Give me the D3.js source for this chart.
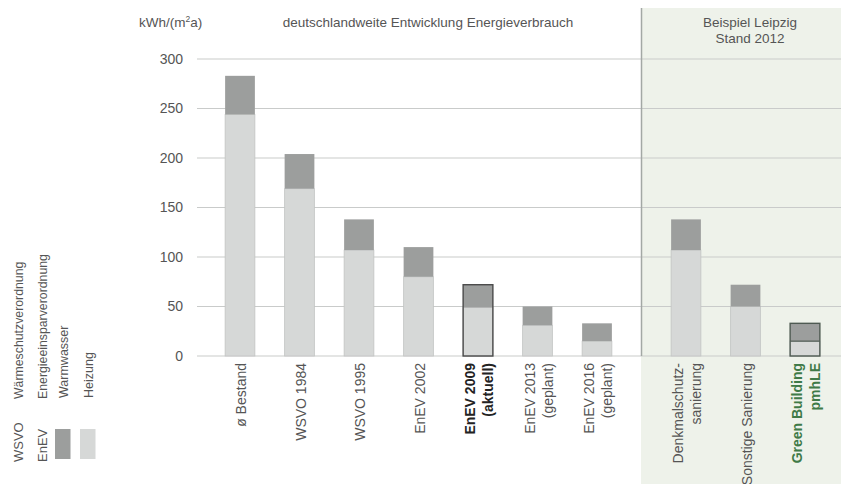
<!DOCTYPE html>
<html>
<head>
<meta charset="utf-8">
<script src="https://cdn.jsdelivr.net/npm/d3@7"></script>
<style>
  html, body { margin: 0; padding: 0; background: #fff; }
  svg { display: block; font-family: "Liberation Sans", Arial, sans-serif; }
</style>
</head>
<body>
<svg id="chart" width="841" height="484"></svg>
<script>
// ---- data ----
const germanyCategories = ["ø Bestand", "WSVO 1984", "WSVO 1995", "EnEV 2002", "EnEV 2009|(aktuell)", "EnEV 2013|(geplant)", "EnEV 2016|(geplant)"];
const germanyHeizung    = [244, 169, 107, 80, 49, 31, 15];
const germanyTotal      = [283, 204, 138, 110, 72, 50, 33];

const leipzigCategories = ["Denkmalschutz-|sanierung", "Sonstige Sanierung", "Green Building|pmhLE"];
const leipzigHeizung    = [107, 50, 15];
const leipzigTotal      = [138, 72, 33];

const yTicks = [0, 50, 100, 150, 200, 250, 300];
const germanyTitle = "deutschlandweite Entwicklung Energieverbrauch";
const leipzigTitle = ["Beispiel Leipzig", "Stand 2012"];

const legendAbbr = ["WSVO", "EnEV"];
const legendAbbrText = ["Wärmeschutzverordnung", "Energieeinsparverordnung"];
const seriesNames = ["Warmwasser", "Heizung"];

const boldCategory = "EnEV 2009|(aktuell)";
const greenCategory = "Green Building|pmhLE";

// ---- drawing ----
const svg = d3.select("#chart");
const W = 841, H = 484;
const textCol = "#555";
const colWarm = "#9c9e9d", colHeiz = "#d6d8d7", colHeizStroke = "#c2c4c3";
const greenBg = "#eef2ea";

const y = d3.scaleLinear().domain([0, 300]).range([356, 59]);
const xG = d3.scaleBand().domain(germanyCategories).range([210.25, 626.75]).paddingInner(0.5).paddingOuter(0.25);
const xL = d3.scaleBand().domain(leipzigCategories).range([656.25, 834.75]).paddingInner(0.5).paddingOuter(0.25);

// green panel
svg.append("rect").attr("x", 641).attr("y", 8).attr("width", W - 641).attr("height", H - 8).attr("fill", greenBg);

// y axis labels + grid
const yAxis = d3.axisLeft(y).tickValues(yTicks).tickSize(0).tickPadding(0);
const gAxis = svg.append("g").attr("transform", "translate(183,0)").call(yAxis);
gAxis.select(".domain").remove();
gAxis.selectAll("text").attr("font-size", 14).attr("fill", textCol).attr("font-family", "Liberation Sans, Arial, sans-serif");
svg.append("g").selectAll("line").data(yTicks).join("line")
  .attr("x1", 197).attr("x2", W).attr("y1", d => y(d)).attr("y2", d => y(d))
  .attr("stroke", "#c9cbca").attr("stroke-width", 1.2);

// separator
svg.append("line").attr("x1", 641.5).attr("x2", 641.5).attr("y1", 8).attr("y2", y(0))
  .attr("stroke", "#a3a8a5").attr("stroke-width", 1.5);

function drawGroup(x, cats, heiz, total) {
  const rows = cats.map((c, i) => ({ c, h: heiz[i], t: total[i] }));
  const g = svg.append("g");
  g.selectAll("rect.h").data(rows).join("rect")
    .attr("x", d => x(d.c)).attr("width", x.bandwidth())
    .attr("y", d => y(d.h)).attr("height", d => y(0) - y(d.h))
    .attr("fill", colHeiz).attr("stroke", colHeizStroke).attr("stroke-width", 0.8);
  g.selectAll("rect.w").data(rows).join("rect")
    .attr("x", d => x(d.c)).attr("width", x.bandwidth())
    .attr("y", d => y(d.t)).attr("height", d => y(d.h) - y(d.t))
    .attr("fill", colWarm);
  g.selectAll("rect.o").data(rows.filter(d => d.c === boldCategory || d.c === greenCategory)).join("rect")
    .attr("x", d => x(d.c)).attr("width", x.bandwidth())
    .attr("y", d => y(d.t)).attr("height", d => y(0) - y(d.t))
    .attr("fill", "none")
    .attr("stroke", d => d.c === greenCategory ? "#4e5a52" : "#4a4a4a").attr("stroke-width", 1.4);
  g.selectAll("line.o").data(rows.filter(d => d.c === greenCategory)).join("line")
    .attr("x1", d => x(d.c)).attr("x2", d => x(d.c) + x.bandwidth())
    .attr("y1", d => y(d.h)).attr("y2", d => y(d.h))
    .attr("stroke", "#4e5a52").attr("stroke-width", 1.2);
  const lab = g.selectAll("text.lab").data(rows).join("text")
    .attr("transform", d => `translate(${x(d.c) + x.bandwidth() / 2},363) rotate(-90)`)
    .attr("text-anchor", "end")
    .attr("font-size", 14)
    .attr("font-weight", d => (d.c === boldCategory || d.c === greenCategory) ? "bold" : "normal")
    .attr("fill", d => d.c === boldCategory ? "#222" : d.c === greenCategory ? "#3f7a47" : textCol);
  lab.each(function(d) {
    const lines = d.c.split("|");
    const n = lines.length;
    d3.select(this).selectAll("tspan").data(lines).join("tspan")
      .attr("x", 0)
      .attr("y", (l, i) => (i - (n - 1) / 2) * 18 + 6)
      .text(l => l);
  });
}
drawGroup(xG, germanyCategories, germanyHeizung, germanyTotal);
drawGroup(xL, leipzigCategories, leipzigHeizung, leipzigTotal);

// titles
const unit = svg.append("text").attr("x", 139).attr("y", 27).attr("font-size", 13.5).attr("fill", textCol);
unit.append("tspan").text("kWh/(m");
unit.append("tspan").attr("font-size", 8.5).attr("dy", -5).text("2");
unit.append("tspan").attr("dy", 5).text("a)");
svg.append("text").attr("x", 428).attr("y", 27).attr("text-anchor", "middle").attr("font-size", 13.5).attr("fill", textCol).text(germanyTitle);
svg.append("g").selectAll("text").data(leipzigTitle).join("text")
  .attr("x", 750).attr("y", (d, i) => 27 + i * 16).attr("text-anchor", "middle")
  .attr("font-size", 13.5).attr("fill", textCol).text(d => d);

// legend (rotated)
const lg = svg.append("g");
legendAbbr.forEach((a, i) => {
  const cx = 18 + i * 24;
  lg.append("text").attr("transform", `translate(${cx + 4.5},462) rotate(-90)`).attr("font-size", 13).attr("fill", textCol).text(a);
  lg.append("text").attr("transform", `translate(${cx + 4.5},399) rotate(-90)`).attr("font-size", 12.3).attr("fill", textCol).text(legendAbbrText[i]);
});
seriesNames.forEach((s, i) => {
  const cx = 63 + i * 25;
  lg.append("rect").attr("x", cx - 8).attr("y", 429).attr("width", 15.5).attr("height", 30)
    .attr("fill", i === 0 ? colWarm : colHeiz);
  lg.append("text").attr("transform", `translate(${cx + 4.5},398) rotate(-90)`).attr("font-size", 12.5).attr("fill", textCol).text(s);
});
</script>
</body>
</html>
